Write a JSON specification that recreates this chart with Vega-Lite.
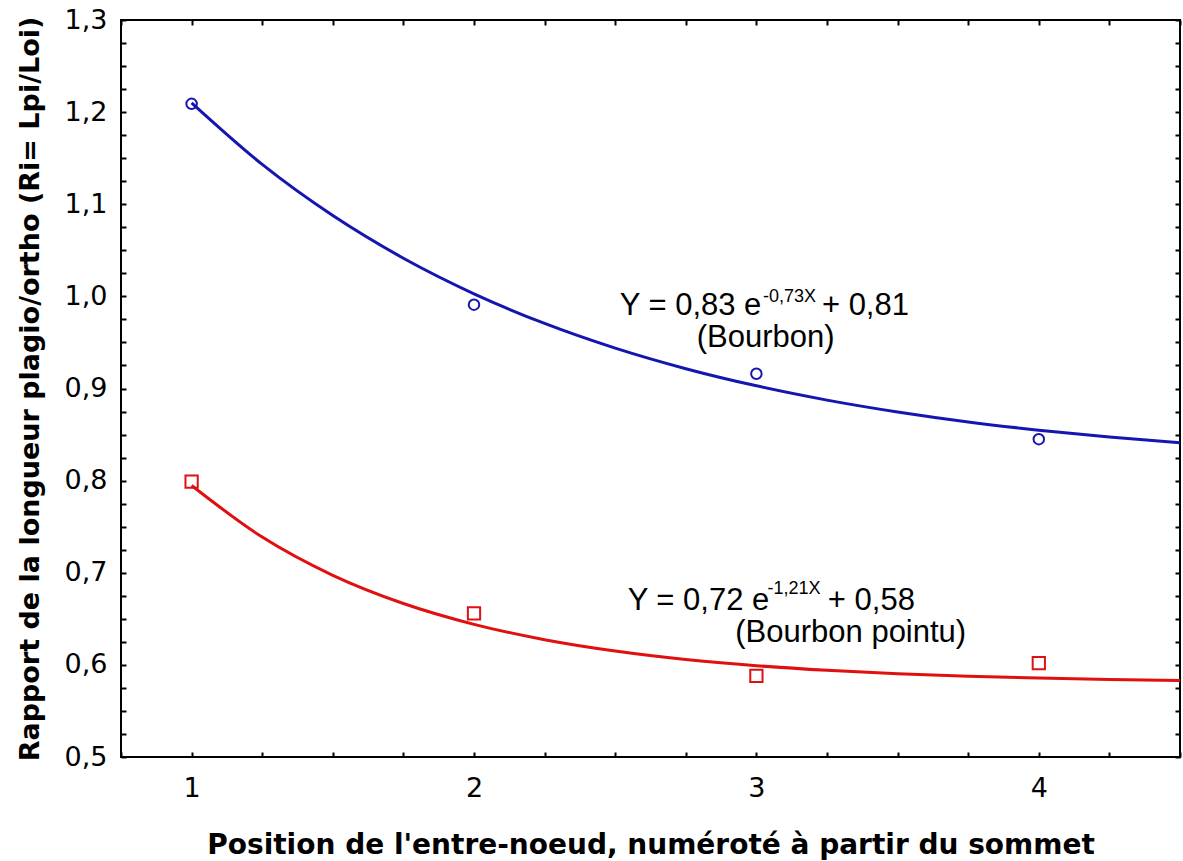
{
  "$schema": "https://vega.github.io/schema/vega-lite/v6.json",
  "width": 1059,
  "height": 737,
  "autosize": "none",
  "padding": {"left": 121, "top": 20, "right": 3, "bottom": 104},
  "background": "white",
  "config": {
    "view": {"stroke": "#000000", "strokeWidth": 2},
    "axis": {"grid": false, "domain": false, "tickColor": "#000000", "tickWidth": 2, "tickSize": -5, "labelColor": "#000000", "titleColor": "#000000", "labelFont": "DejaVu Sans", "labelFontSize": 27, "titleFont": "DejaVu Sans", "titleFontWeight": "bold", "titleFontSize": 28}
  },
  "datasets": {
    "curves": [
      {"serie": "Bourbon", "x": 1, "y": 1.2100},
      {"serie": "Bourbon", "x": 1.25, "y": 1.1432},
      {"serie": "Bourbon", "x": 1.5, "y": 1.0877},
      {"serie": "Bourbon", "x": 1.75, "y": 1.0414},
      {"serie": "Bourbon", "x": 2, "y": 1.0028},
      {"serie": "Bourbon", "x": 2.25, "y": 0.9706},
      {"serie": "Bourbon", "x": 2.5, "y": 0.9438},
      {"serie": "Bourbon", "x": 2.75, "y": 0.9215},
      {"serie": "Bourbon", "x": 3, "y": 0.9029},
      {"serie": "Bourbon", "x": 3.25, "y": 0.8874},
      {"serie": "Bourbon", "x": 3.5, "y": 0.8745},
      {"serie": "Bourbon", "x": 3.75, "y": 0.8637},
      {"serie": "Bourbon", "x": 4, "y": 0.8548},
      {"serie": "Bourbon", "x": 4.25, "y": 0.8473},
      {"serie": "Bourbon", "x": 4.5, "y": 0.8411},
      {"serie": "Bourbon pointu", "x": 1, "y": 0.7947},
      {"serie": "Bourbon pointu", "x": 1.25, "y": 0.7387},
      {"serie": "Bourbon pointu", "x": 1.5, "y": 0.6972},
      {"serie": "Bourbon pointu", "x": 1.75, "y": 0.6666},
      {"serie": "Bourbon pointu", "x": 2, "y": 0.6440},
      {"serie": "Bourbon pointu", "x": 2.25, "y": 0.6273},
      {"serie": "Bourbon pointu", "x": 2.5, "y": 0.6150},
      {"serie": "Bourbon pointu", "x": 2.75, "y": 0.6058},
      {"serie": "Bourbon pointu", "x": 3, "y": 0.5991},
      {"serie": "Bourbon pointu", "x": 3.25, "y": 0.5941},
      {"serie": "Bourbon pointu", "x": 3.5, "y": 0.5904},
      {"serie": "Bourbon pointu", "x": 3.75, "y": 0.5877},
      {"serie": "Bourbon pointu", "x": 4, "y": 0.5857},
      {"serie": "Bourbon pointu", "x": 4.25, "y": 0.5842},
      {"serie": "Bourbon pointu", "x": 4.5, "y": 0.5831}
    ],
    "points": [
      {"serie": "Bourbon", "x": 1, "y": 1.209},
      {"serie": "Bourbon", "x": 2, "y": 0.991},
      {"serie": "Bourbon", "x": 3, "y": 0.916},
      {"serie": "Bourbon", "x": 4, "y": 0.845},
      {"serie": "Bourbon pointu", "x": 1, "y": 0.799},
      {"serie": "Bourbon pointu", "x": 2, "y": 0.656},
      {"serie": "Bourbon pointu", "x": 3, "y": 0.588},
      {"serie": "Bourbon pointu", "x": 4, "y": 0.602}
    ]
  },
  "resolve": {"axis": {"x": "independent", "y": "independent"}},
  "layer": [
    {
      "data": {"name": "curves"},
      "mark": {"type": "line", "strokeWidth": 3, "interpolate": "monotone"},
      "encoding": {
        "x": {"field": "x", "type": "quantitative",
          "scale": {"domain": [0.75, 4.5], "nice": false, "zero": false},
          "axis": {"orient": "bottom", "values": [0.75, 1, 1.25, 1.5, 1.75, 2, 2.25, 2.5, 2.75, 3, 3.25, 3.5, 3.75, 4, 4.25, 4.5],
            "labelExpr": "datum.value % 1 == 0 ? format(datum.value, 'd') : ''",
            "labelPadding": 23, "title": "Position de l'entre-noeud, numéroté à partir du sommet", "titlePadding": 30}},
        "y": {"field": "y", "type": "quantitative",
          "scale": {"domain": [0.5, 1.3], "nice": false, "zero": false},
          "axis": {"orient": "left", "values": [0.5, 0.525, 0.55, 0.575, 0.6, 0.625, 0.65, 0.675, 0.7, 0.725, 0.75, 0.775, 0.8, 0.825, 0.85, 0.875, 0.9, 0.925, 0.95, 0.975, 1.0, 1.025, 1.05, 1.075, 1.1, 1.125, 1.15, 1.175, 1.2, 1.225, 1.25, 1.275, 1.3],
            "labelExpr": "abs(datum.value * 10 - round(datum.value * 10)) < 0.01 ? replace(format(datum.value, '.1f'), '.', ',') : ''",
            "labelPadding": 19, "title": "Rapport de la longueur plagio/ortho (Ri= Lpi/Loi)", "titleFontSize": 27, "titlePadding": 20}},
        "color": {"field": "serie", "type": "nominal", "scale": {"domain": ["Bourbon", "Bourbon pointu"], "range": ["#1515b0", "#e01010"]}, "legend": null}
      }
    },
    {
      "data": {"name": "points"},
      "mark": {"type": "point", "filled": false, "strokeWidth": 2, "opacity": 1},
      "encoding": {
        "x": {"field": "x", "type": "quantitative", "scale": {"domain": [0.75, 4.5], "nice": false, "zero": false},
          "axis": {"orient": "top", "values": [0.75, 1, 1.25, 1.5, 1.75, 2, 2.25, 2.5, 2.75, 3, 3.25, 3.5, 3.75, 4, 4.25, 4.5], "labels": false, "title": null}},
        "y": {"field": "y", "type": "quantitative", "scale": {"domain": [0.5, 1.3], "nice": false, "zero": false},
          "axis": {"orient": "right", "values": [0.5, 0.525, 0.55, 0.575, 0.6, 0.625, 0.65, 0.675, 0.7, 0.725, 0.75, 0.775, 0.8, 0.825, 0.85, 0.875, 0.9, 0.925, 0.95, 0.975, 1.0, 1.025, 1.05, 1.075, 1.1, 1.125, 1.15, 1.175, 1.2, 1.225, 1.25, 1.275, 1.3], "labels": false, "title": null}},
        "shape": {"field": "serie", "type": "nominal", "scale": {"domain": ["Bourbon", "Bourbon pointu"], "range": ["circle", "square"]}, "legend": null},
        "size": {"field": "serie", "type": "nominal", "scale": {"domain": ["Bourbon", "Bourbon pointu"], "range": [110, 150]}, "legend": null},
        "color": {"field": "serie", "type": "nominal", "scale": {"domain": ["Bourbon", "Bourbon pointu"], "range": ["#2020a0", "#c03030"]}, "legend": null}
      }
    },
    {
      "data": {"values": [
        {"x": 2.516, "y": 0.980, "t": "Y = 0,83 e"},
        {"x": 3.232, "y": 0.980, "t": "+ 0,81"},
        {"x": 2.544, "y": 0.660, "t": "Y = 0,72 e"},
        {"x": 3.253, "y": 0.660, "t": "+ 0,58"}
      ]},
      "mark": {"type": "text", "align": "left", "baseline": "alphabetic", "font": "Liberation Sans", "fontSize": 31, "color": "#000000"},
      "encoding": {
        "x": {"field": "x", "type": "quantitative", "scale": {"domain": [0.75, 4.5], "nice": false, "zero": false}, "axis": null},
        "y": {"field": "y", "type": "quantitative", "scale": {"domain": [0.5, 1.3], "nice": false, "zero": false}, "axis": null},
        "text": {"field": "t"}
      }
    },
    {
      "data": {"values": [
        {"x": 3.023, "y": 0.994, "t": "-0,73X"},
        {"x": 3.039, "y": 0.677, "t": "-1,21X"}
      ]},
      "mark": {"type": "text", "align": "left", "baseline": "alphabetic", "font": "Liberation Sans", "fontSize": 18, "color": "#000000"},
      "encoding": {
        "x": {"field": "x", "type": "quantitative", "scale": {"domain": [0.75, 4.5], "nice": false, "zero": false}, "axis": null},
        "y": {"field": "y", "type": "quantitative", "scale": {"domain": [0.5, 1.3], "nice": false, "zero": false}, "axis": null},
        "text": {"field": "t"}
      }
    },
    {
      "data": {"values": [
        {"x": 3.033, "y": 0.945, "t": "(Bourbon)"},
        {"x": 3.334, "y": 0.625, "t": "(Bourbon pointu)"}
      ]},
      "mark": {"type": "text", "align": "center", "baseline": "alphabetic", "font": "Liberation Sans", "fontSize": 31, "color": "#000000"},
      "encoding": {
        "x": {"field": "x", "type": "quantitative", "scale": {"domain": [0.75, 4.5], "nice": false, "zero": false}, "axis": null},
        "y": {"field": "y", "type": "quantitative", "scale": {"domain": [0.5, 1.3], "nice": false, "zero": false}, "axis": null},
        "text": {"field": "t"}
      }
    }
  ]
}
